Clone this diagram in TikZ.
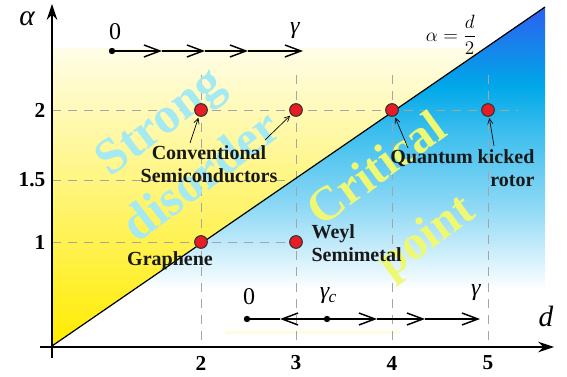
\documentclass[tikz,border=0pt]{standalone}
\usepackage{fontspec}
\setmainfont{Liberation Serif}
\usepackage{amsmath}
\usetikzlibrary{arrows.meta,positioning,calc}
\definecolor{dotred}{RGB}{232,28,36}
\definecolor{yellowtop}{RGB}{255,253,232}
\definecolor{yellowmid}{RGB}{255,244,105}
\definecolor{yellowbot}{RGB}{255,236,0}
\definecolor{blueA}{RGB}{44,96,240}
\definecolor{blueB}{RGB}{0,168,232}
\definecolor{blueC}{RGB}{60,190,238}
\definecolor{blueD}{RGB}{140,216,245}
\definecolor{cyantext}{RGB}{165,234,240}
\definecolor{yellowtext}{RGB}{238,248,115}
\definecolor{gridgray}{RGB}{165,165,165}
\pgfdeclareverticalshading{bluefade}{100bp}{color(0bp)=(white); color(25bp)=(white); color(40bp)=(blueD); color(53bp)=(blueC); color(61bp)=(blueB); color(75bp)=(blueA); color(100bp)=(blueA)}
\newcommand{\gammasub}{\textit{γ\kern-0.5pt\raisebox{-0.3ex}{\fontsize{13}{13}\selectfont c}}}
\tikzset{
    dot/.style={circle, draw=black!80, fill=dotred, line width=0.8pt, inner sep=0pt, minimum size=9.5pt},
    lab/.style={font=\bfseries\fontsize{15}{17.25}\selectfont, text=black!90, inner sep=1pt},
    ticklab/.style={font=\bfseries\fontsize{16}{18}\selectfont, inner sep=1pt},
    flowlab/.style={font=\fontsize{18}{20}\selectfont, inner sep=1pt},
    flow/.style={line width=1.1pt, -{Straight Barb[length=12pt,width=9pt,line width=1.1pt]}},
    ptr/.style={line width=0.5pt, -{Straight Barb[length=4pt,width=4pt]}, shorten >=1pt},
    axis/.style={line width=1pt, -{Stealth[length=12pt,width=8pt,inset=4pt]}},
    gridline/.style={gridgray, line width=0.5pt, dash pattern=on 7pt off 5pt},
    bigtext/.style={font=\bfseries\fontsize{35}{52}\selectfont, align=center, inner sep=0pt},
}
\begin{document}
\begin{tikzpicture}[x=0.75pt, y=-0.75pt]
    \useasboundingbox (0,0) rectangle (567,377);

    % Corner points
    \coordinate (O) at (52,346);
    \coordinate (top) at (545,7);

    % Regions
    \shade[top color=yellowtop, middle color=yellowmid, bottom color=yellowbot] (O) -- (52,48) -- (485.4,48) -- cycle;
    \shade[shading=bluefade] (133.4,290) -- (top) -- (545,290) -- cycle;
    \fill[yellow!12] (225,331) rectangle (400,334);

    % Grid
    \foreach \x in {201,296,392,488}
        \draw[gridline] (\x,75) -- (\x,346);
    \draw[gridline] (52,110) -- (518,110);
    \draw[gridline] (52,180) -- (293,180);
    \draw[gridline] (52,242) -- (296,242);

    % Big labels
    \node[bigtext, rotate=37, text=cyantext, font=\bfseries\fontsize{38}{52}\selectfont] (strong) at (180,148) {Strong\\disorder};
    \node[bigtext, rotate=36, text=yellowtext, font=\bfseries\fontsize{36}{62}\selectfont] (critical) at (403,205) {Critical\\point};

    % Axes
    \coordinate (xa) at (40,347);
    \coordinate (xb) at (554,347);
    \coordinate (ya) at (52,358);
    \coordinate (yb) at (52,4);
    \draw[axis] (xa) -- (xb);
    \draw[axis] (ya) -- (yb);
    \node[font=\itshape\fontsize{22}{24}\selectfont] (alab) at (27,19) {α};
    \node[font=\itshape\fontsize{22}{24}\selectfont] (dlab) at (546,316) {d};

    % Boundary
    \draw[line width=0.9pt] (O) -- (top);
    \node[font=\fontsize{15}{17}\selectfont] (bound) at (451,35) {$\alpha=\dfrac{d}{2}$};

    % Ticks
    \foreach \x/\t in {201/2,296/3,392/4,488/5}
        \node[ticklab] at (\x,363) {\t};
    \node[ticklab, anchor=east] at (47,110) {2};
    \node[ticklab, anchor=east] at (47,180) {1.5};
    \node[ticklab, anchor=east] at (47,242) {1};

    % Top flow
    \coordinate (ta) at (112,51);
    \coordinate (tb) at (162,51);
    \coordinate (tc) at (205,51);
    \coordinate (td) at (248,51);
    \coordinate (te) at (303,51);
    \foreach \s/\e in {ta/tb,tb/tc,tc/td,td/te}
        \draw[flow] (\s) -- (\e);
    \fill (ta) circle[radius=2.4pt];
    \node[flowlab] at (115,32) {0};
    \node[flowlab] at (295,31) {\textit{γ}};

    % Bottom flow
    \coordinate (ba) at (247,319);
    \coordinate (bb) at (280,319);
    \coordinate (bc) at (327,319);
    \coordinate (bd) at (377,319);
    \coordinate (be) at (425,319);
    \coordinate (bf) at (480,319);
    \draw[line width=1.1pt] (ba) -- (bb);
    \foreach \s/\e in {bc/bb,bc/bd,bd/be,be/bf}
        \draw[flow] (\s) -- (\e);
    \fill (ba) circle[radius=2.4pt];
    \fill (bc) circle[radius=2.4pt];
    \node[flowlab] at (249,297) {0};
    \node[flowlab] at (328,296) {\gammasub};
    \node[flowlab] at (476,293) {\textit{γ}};

    % Materials
    \node[dot] (dconv) at (201,110) {};
    \node[dot] (dtwo) at (296,110) {};
    \node[dot] (dcrit) at (392,110) {};
    \node[dot] (dkick) at (488,110) {};
    \node[dot] (dgraph) at (201,242) {};
    \node[dot] (dweyl) at (296,242) {};

    \node[lab, align=center] (conv) at (209,164.5) {Conventional\\Semiconductors};
    \node[lab, align=right, anchor=east] (qkr) at (536,168) {Quantum kicked\\rotor};
    \node[lab] (graph) at (170,261) {Graphene};
    \node[lab, align=left, anchor=west] (weyl) at (310,243) {Weyl\\Semimetal};

    \coordinate (c1) at (190,143);
    \coordinate (c2) at (265,140);
    \coordinate (q1) at (408,148);
    \coordinate (q2) at (494,146);
    \draw[ptr] (c1) -- (dconv);
    \draw[ptr] (c2) -- (dtwo);
    \draw[ptr] (q1) -- (dcrit);
    \draw[ptr] (q2) -- (dkick);
\end{tikzpicture}
\end{document}
